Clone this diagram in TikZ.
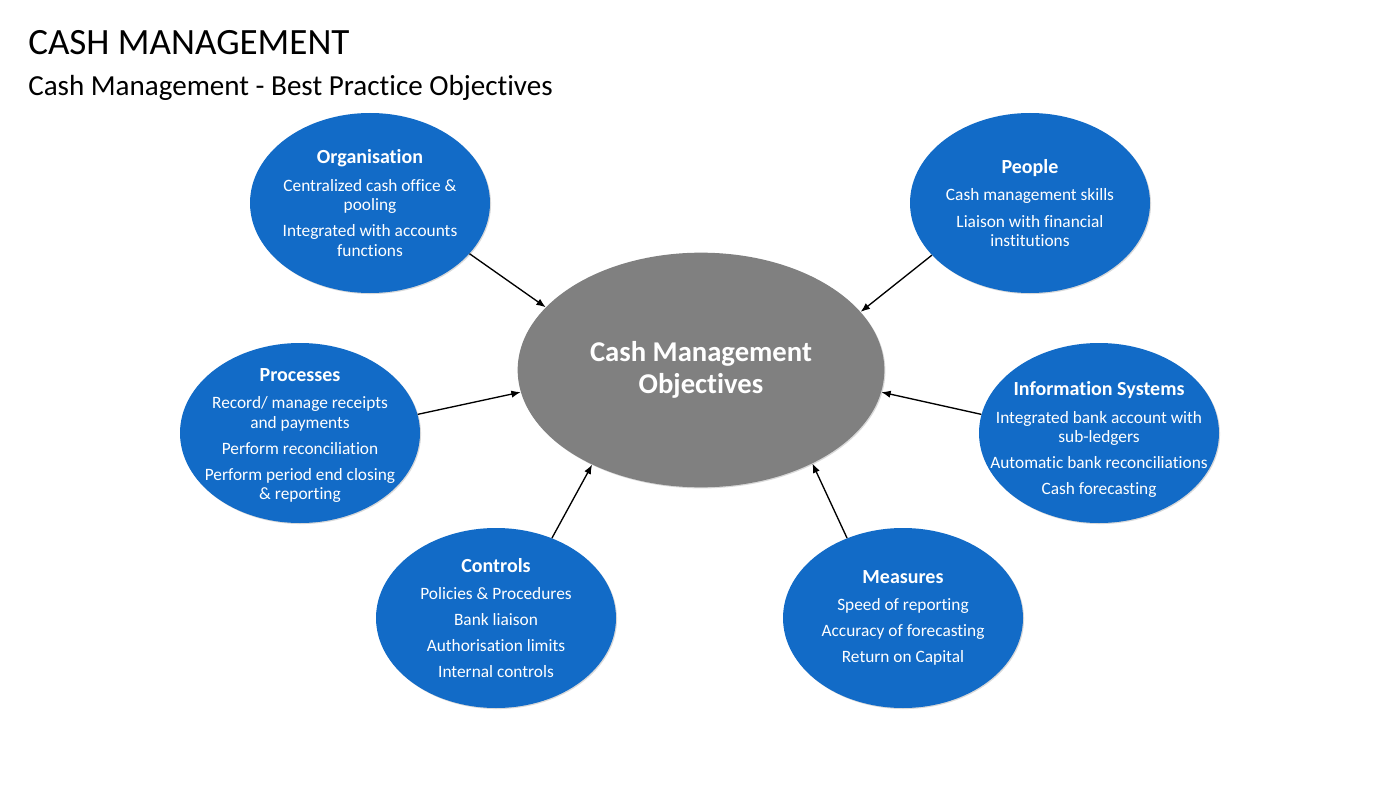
\documentclass[tikz,border=0pt]{standalone}
\usepackage{fontspec}
\setmainfont{Carlito}[RawFeature={-liga;-clig;-calt;-dlig}]
\usetikzlibrary{arrows.meta,shapes.geometric,shadows}
\definecolor{bubbleblue}{RGB}{18,107,199}
\definecolor{hubgray}{RGB}{128,128,128}
\newcommand{\head}[1]{{\fontsize{15}{18}\selectfont\bfseries #1}}

\begin{document}
\begin{tikzpicture}[x=0.75pt,y=-0.75pt,
	bubble/.style={ellipse,fill=bubbleblue,minimum width=180pt,minimum height=135pt,inner sep=0pt,
		drop shadow={opacity=0.3,shadow xshift=0.8pt,shadow yshift=-0.8pt}},
	hub/.style={ellipse,fill=hubgray,minimum width=275pt,minimum height=176pt,inner sep=0pt,
		drop shadow={opacity=0.3,shadow xshift=0.8pt,shadow yshift=-0.8pt}},
	bubbletext/.style={text=white,align=center,inner sep=0pt,font=\fontsize{13}{14.6}\selectfont},
	link/.style={-{Latex[length=7pt,width=5.5pt]},line width=1pt}]
	\useasboundingbox (0,0) rectangle (1400,788);
	\node[anchor=base west,inner sep=0pt,font=\fontsize{27.8}{32}\selectfont] (title) at (28,55) {CASH MANAGEMENT};
	\node[anchor=base west,inner sep=0pt,font=\fontsize{21.8}{26}\selectfont] (subtitle) at (28,96) {Cash Management - Best Practice Objectives};

	\node[hub] (hub) at (701,370) {};
	\node[text=white,align=center,inner sep=0pt,font=\fontsize{21.5}{24}\selectfont\bfseries] (hubtext) at (hub) {Cash Management\\Objectives};

	\node[bubble] (org) at (370,203) {};
	\node[bubbletext] (orgtext) at (org) {\head{Organisation}\\[6pt]Centralized cash office \&\\pooling\\[5pt]Integrated with accounts\\functions};
	\node[bubble] (people) at (1030,203) {};
	\node[bubbletext] (peopletext) at (people) {\head{People}\\[6pt]Cash management skills\\[5pt]Liaison with financial\\institutions};
	\node[bubble] (proc) at (300,433) {};
	\node[bubbletext] (proctext) at ([yshift=-2pt]proc) {\head{Processes}\\[6pt]Record/ manage receipts\\and payments\\[5pt]Perform reconciliation\\[5pt]Perform period end closing\\\& reporting};
	\node[bubble] (info) at (1099,433) {};
	\node[bubbletext] (infotext) at ([yshift=-5pt]info) {\head{Information Systems}\\[6pt]Integrated bank account with\\sub-ledgers\\[5pt]Automatic bank reconciliations\\[5pt]Cash forecasting};
	\node[bubble] (ctrl) at (496,618) {};
	\node[bubbletext] (ctrltext) at (ctrl) {\head{Controls}\\[6pt]Policies \& Procedures\\[5pt]Bank liaison\\[5pt]Authorisation limits\\[5pt]Internal controls};
	\node[bubble] (meas) at (903,618) {};
	\node[bubbletext] (meastext) at (meas) {\head{Measures}\\[6pt]Speed of reporting\\[5pt]Accuracy of forecasting\\[5pt]Return on Capital};

	\draw[link] (org.-27.5) -- (hub.158.6);
	\draw[link] (people.-152) -- (hub.20.8);
	\draw[link] (proc.9) -- (hub.-173);
	\draw[link] (info.171) -- (hub.-7);
	\draw[link] (ctrl.55) -- (hub.-139);
	\draw[link] (meas.125) -- (hub.-40.4);
\end{tikzpicture}
\end{document}
